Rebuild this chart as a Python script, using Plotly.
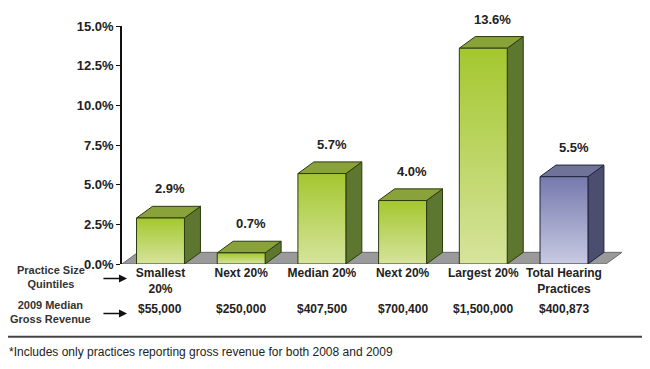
import plotly.graph_objects as go

categories = ["Smallest<br>20%", "Next 20%", "Median 20%", "Next 20%", "Largest 20%", "Total Hearing<br>Practices"]
growth_pct = [2.9, 0.7, 5.7, 4.0, 13.6, 5.5]
value_labels = ["2.9%", "0.7%", "5.7%", "4.0%", "13.6%", "5.5%"]
median_revenue = ["$55,000", "$250,000", "$407,500", "$700,400", "$1,500,000", "$400,873"]
is_total = [False, False, False, False, False, True]
y_ticks = [0, 2.5, 5, 7.5, 10, 12.5, 15]
y_tick_labels = ["0.0%", "2.5%", "5.0%", "7.5%", "10.0%", "12.5%", "15.0%"]

FONT = "Liberation Sans, Arial, sans-serif"

# geometry (axis units)
X_RANGE = [-0.477, 5.818]
Y_RANGE = [0, 15]
HW = 0.297          # half width of bar front
DX = 0.198          # depth offset x
DY = 0.735          # depth offset y

green = dict(bottom="#d6e49c", top="#a4c72f", topface="#8aa23a", side="#5d7630", line="#2c3a10")
blue = dict(bottom="#c8cae2", top="#7579ad", topface="#6f7398", side="#4b4e6e", line="#22243c")

fig = go.Figure()

# floor
fl, fr = X_RANGE[0], 5.52
fig.add_trace(go.Scatter(
    x=[fl, fr, fr + DX, fl + DX, fl], y=[0, 0, DY, DY, 0],
    fill="toself", fillcolor="#9a9a9a", mode="lines",
    line=dict(color="#6a6a6a", width=1), hoverinfo="skip", showlegend=False))

for i, v in enumerate(growth_pct):
    c = blue if is_total[i] else green
    xl, xr = i - HW, i + HW
    # side face
    fig.add_trace(go.Scatter(
        x=[xr, xr + DX, xr + DX, xr, xr], y=[0, DY, v + DY, v, 0],
        fill="toself", fillcolor=c["side"], mode="lines",
        line=dict(color=c["line"], width=1), hoverinfo="skip", showlegend=False))
    # top face
    fig.add_trace(go.Scatter(
        x=[xl, xr, xr + DX, xl + DX, xl], y=[v, v, v + DY, v + DY, v],
        fill="toself", fillcolor=c["topface"], mode="lines",
        line=dict(color=c["line"], width=1), hoverinfo="skip", showlegend=False))
    # front face with vertical gradient
    fig.add_trace(go.Scatter(
        x=[xl, xr, xr, xl, xl], y=[0, 0, v, v, 0],
        fill="toself", mode="lines",
        fillgradient=dict(type="vertical", colorscale=[[0, c["bottom"]], [1, c["top"]]]),
        line=dict(color=c["line"], width=1), hoverinfo="skip", showlegend=False))
    fig.add_annotation(x=i + 0.12, y=v, xref="x", yref="y", text=value_labels[i],
                       showarrow=False, yshift=29, yanchor="middle",
                       font=dict(family=FONT, size=13, color="#222", weight="bold"))
    fig.add_annotation(x=i, y=-0.1878, xref="x", yref="paper", text=median_revenue[i],
                       showarrow=False, yanchor="middle", xanchor="center",
                       font=dict(family=FONT, size=12, color="#222", weight="bold"))

# row headers and arrows
fig.add_annotation(x=-0.1398, y=-0.053, xref="paper", yref="paper",
                   text="Practice Size<br>Quintiles", showarrow=False,
                   xanchor="center", yanchor="middle",
                   font=dict(family=FONT, size=11, color="#333", weight="bold"))
fig.add_annotation(x=-0.1398, y=-0.2, xref="paper", yref="paper",
                   text="2009 Median<br>Gross Revenue", showarrow=False,
                   xanchor="center", yanchor="middle",
                   font=dict(family=FONT, size=11, color="#333", weight="bold"))
for ypos in [-0.0612, -0.208]:
    fig.add_annotation(x=0.0098, y=ypos, xref="paper", yref="paper", text="",
                       showarrow=True, ax=-25, ay=0, arrowhead=2, arrowsize=1,
                       arrowwidth=1.6, arrowcolor="#111")

# separator line and footnote
fig.add_shape(type="line", xref="paper", yref="paper", x0=-0.230, x1=1.0295,
              y0=-0.306, y1=-0.306, line=dict(color="#444", width=2))
fig.add_annotation(x=-0.226, y=-0.371, xref="paper", yref="paper",
                   text="*Includes only practices reporting gross revenue for both 2008 and 2009",
                   showarrow=False, xanchor="left", yanchor="middle",
                   font=dict(family=FONT, size=12, color="#222"))

# The page body has an 8px default margin, so the figure is sized to fit the window.
fig.update_layout(
    width=642, height=361,
    margin=dict(l=114, r=20, t=11, b=105),
    paper_bgcolor="white", plot_bgcolor="white",
    showlegend=False,
    xaxis=dict(range=X_RANGE, tickvals=list(range(len(categories))), ticktext=categories,
               showgrid=False, zeroline=False, showline=False, ticks="",
               tickfont=dict(family=FONT, size=12, color="#222", weight="bold"),
               fixedrange=True),
    yaxis=dict(range=Y_RANGE, tickvals=y_ticks, ticktext=y_tick_labels,
               showgrid=False, zeroline=False, showline=True, linecolor="#111", linewidth=1.5,
               ticks="outside", ticklen=4, tickcolor="#111",
               tickfont=dict(family=FONT, size=13, color="#222", weight="bold"),
               fixedrange=True),
)

fig.write_html("out.html")
